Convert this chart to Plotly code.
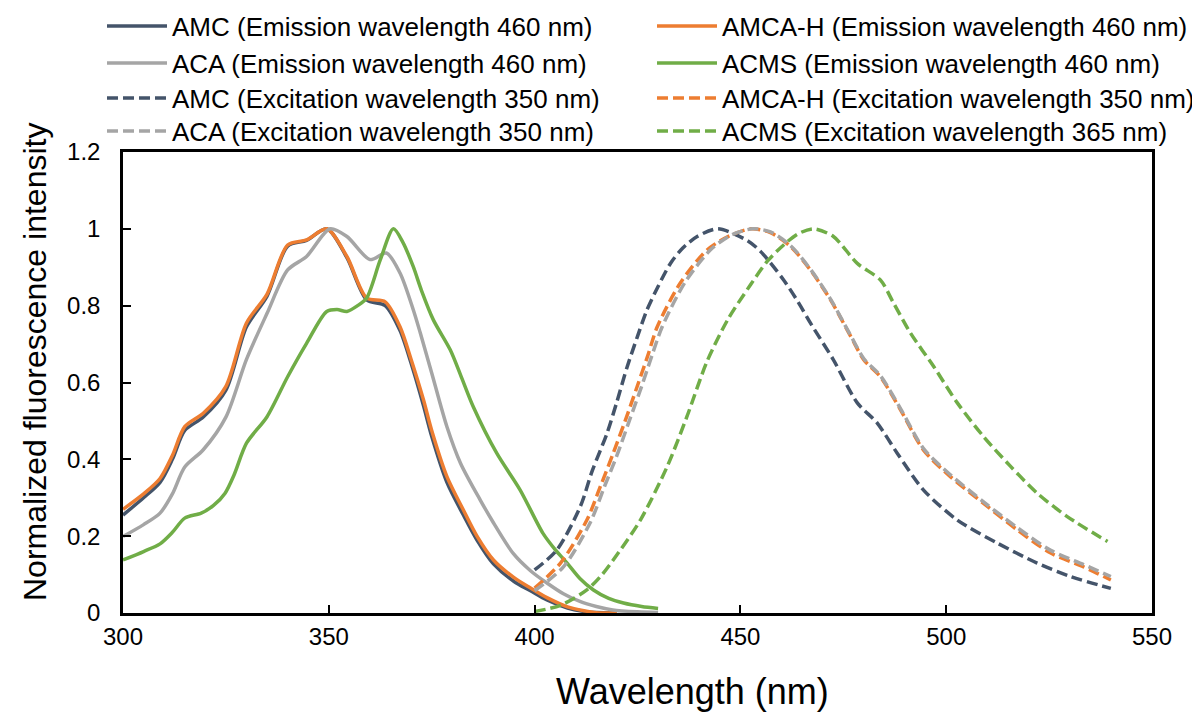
import plotly.graph_objects as go

# ---------------- data ----------------
amc_em_wl = [300, 305, 309, 312, 315, 319.5, 325, 330, 335, 340, 344.6, 349.5, 354.4, 359.2, 363.7, 367.3, 370, 373, 375, 378.7, 382.7, 386, 390, 395, 399, 403, 408, 412, 415, 420]
amc_em = [0.255, 0.30, 0.34, 0.40, 0.475, 0.51, 0.58, 0.745, 0.825, 0.955, 0.97, 1.0, 0.925, 0.815, 0.80, 0.735, 0.65, 0.54, 0.46, 0.34, 0.255, 0.19, 0.128, 0.082, 0.058, 0.034, 0.013, 0.004, 0.001, 0.0]

amcah_em_wl = [300, 305, 309, 312, 315, 319.5, 325, 330, 335, 340, 344.6, 349.5, 354.4, 359.2, 363.7, 367.3, 370, 373, 375, 378.7, 382.7, 386, 390, 395, 399, 403, 408, 412, 415, 420]
amcah_em = [0.27, 0.31, 0.35, 0.41, 0.485, 0.52, 0.59, 0.755, 0.83, 0.958, 0.971, 1.0, 0.928, 0.82, 0.81, 0.745, 0.66, 0.555, 0.475, 0.355, 0.268, 0.2, 0.138, 0.092, 0.065, 0.04, 0.016, 0.006, 0.001, 0.0]

aca_em_wl = [300, 305, 309, 312, 315, 319.5, 325, 330, 335, 340, 344.6, 350.3, 354.4, 360, 364, 367.3, 370.5, 372.2, 375, 378.7, 382, 386.8, 390, 394.8, 399, 403, 407, 411, 415, 419, 425, 430]
aca_em = [0.199, 0.23, 0.26, 0.31, 0.38, 0.425, 0.51, 0.66, 0.78, 0.893, 0.928, 1.0, 0.98, 0.92, 0.937, 0.885, 0.79, 0.73, 0.625, 0.485, 0.39, 0.294, 0.235, 0.155, 0.11, 0.078, 0.05, 0.03, 0.017, 0.008, 0.003, 0.001]

acms_em_wl = [300, 305, 309, 312, 315, 319, 322, 324.8, 327, 330, 335, 340, 344.6, 349.5, 352, 354.4, 357, 359.2, 362.5, 365.7, 368, 370.5, 372.5, 375.4, 379.5, 382, 385.1, 390.8, 396.5, 402, 405, 407.9, 411, 414.3, 418, 421.6, 426, 430]
acms_em = [0.138, 0.16, 0.18, 0.21, 0.247, 0.26, 0.28, 0.312, 0.36, 0.442, 0.511, 0.615, 0.702, 0.785, 0.79, 0.785, 0.80, 0.82, 0.919, 1.0, 0.965, 0.902, 0.84, 0.763, 0.685, 0.62, 0.537, 0.416, 0.32, 0.208, 0.165, 0.13, 0.09, 0.06, 0.038, 0.026, 0.017, 0.012]

amc_ex_wl = [400, 405.4, 411.1, 414, 417.6, 420, 422.5, 425, 427.3, 430, 433, 436, 439.5, 444.5, 451.6, 455, 460.5, 464, 467, 472.6, 478.4, 483.2, 488.1, 494.5, 502.7, 512.4, 522.1, 530.2, 540]
amc_ex = [0.112, 0.164, 0.277, 0.37, 0.468, 0.55, 0.641, 0.72, 0.789, 0.85, 0.91, 0.95, 0.98, 1.0, 0.97, 0.94, 0.867, 0.81, 0.755, 0.659, 0.547, 0.495, 0.416, 0.32, 0.242, 0.182, 0.13, 0.095, 0.064]

amcah_ex_wl = [400, 406.3, 412.7, 416, 419.1, 422, 424.9, 427.5, 429.8, 435.4, 441.9, 447, 452.5, 457.3, 462.2, 467, 471.9, 476.8, 480, 484, 488.9, 494.5, 501, 509, 517.3, 525.4, 533.4, 540]
amcah_ex = [0.065, 0.13, 0.242, 0.33, 0.416, 0.5, 0.589, 0.67, 0.745, 0.859, 0.945, 0.98, 1.0, 0.99, 0.954, 0.893, 0.815, 0.72, 0.659, 0.615, 0.529, 0.424, 0.355, 0.286, 0.216, 0.156, 0.12, 0.086]

aca_ex_wl = [400, 407, 413.5, 417, 420, 423, 426, 428.5, 431, 436.5, 443, 448, 453, 457.3, 462.2, 467, 471.9, 476.8, 480, 484, 488.9, 494.5, 501, 509, 517.3, 525.4, 533.4, 540]
aca_ex = [0.058, 0.12, 0.235, 0.33, 0.41, 0.5, 0.59, 0.67, 0.745, 0.86, 0.948, 0.985, 1.0, 0.992, 0.956, 0.895, 0.817, 0.722, 0.662, 0.618, 0.532, 0.428, 0.36, 0.29, 0.222, 0.163, 0.126, 0.095]

acms_ex_wl = [400, 406.3, 412.7, 416, 419.1, 425.7, 432.2, 437, 441.9, 447, 452.5, 456.5, 460.5, 464, 467.8, 472.6, 478.4, 484, 487.2, 491.3, 497, 502.7, 509.1, 515.7, 522.1, 529.4, 539.2]
acms_ex = [0.004, 0.02, 0.06, 0.095, 0.138, 0.242, 0.381, 0.511, 0.655, 0.765, 0.855, 0.915, 0.958, 0.987, 1.0, 0.98, 0.91, 0.867, 0.807, 0.729, 0.641, 0.547, 0.459, 0.381, 0.312, 0.251, 0.186]

names = [
    "AMC (Emission wavelength 460 nm)", "AMCA-H (Emission wavelength 460 nm)",
    "ACA (Emission wavelength 460 nm)", "ACMS (Emission wavelength 460 nm)",
    "AMC (Excitation wavelength 350 nm)", "AMCA-H (Excitation wavelength 350 nm)",
    "ACA (Excitation wavelength 350 nm)", "ACMS (Excitation wavelength 365 nm)",
]

x_ticks = [300, 350, 400, 450, 500, 550]
y_ticks = [0, 0.2, 0.4, 0.6, 0.8, 1, 1.2]
x_title = "Wavelength (nm)"
y_title = "Normalized fluorescence intensity"

# ---------------- styles ----------------
NAVY, ORANGE, GRAY, GREEN = "#44546A", "#ED7D31", "#A5A5A5", "#70AD47"
DASH = "11px,5px"
series = [
    (amc_em_wl, amc_em, NAVY, "solid"),
    (amcah_em_wl, amcah_em, ORANGE, "solid"),
    (aca_em_wl, aca_em, GRAY, "solid"),
    (acms_em_wl, acms_em, GREEN, "solid"),
    (amc_ex_wl, amc_ex, NAVY, DASH),
    (amcah_ex_wl, amcah_ex, ORANGE, DASH),
    (aca_ex_wl, aca_ex, GRAY, DASH),
    (acms_ex_wl, acms_ex, GREEN, DASH),
]

FONT = "Liberation Sans, Arial, sans-serif"
W, H = 1200, 718
ML, MR, MT, MB = 115, 56, 144, 113
PW, PH = W - ML - MR, H - MT - MB
row_y = [18, 55, 90, 123]      # legend row centres (px from top of figure)
col_x = [94, 644]              # legend column left edges (px)

fig = go.Figure()
legends = {}
for i, ((wl, val, col, dash), nm) in enumerate(zip(series, names)):
    key = "legend" if i == 0 else f"legend{i + 1}"
    fig.add_trace(go.Scatter(
        x=wl, y=val, mode="lines", name=nm, legend=key,
        line=dict(color=col, width=3.5, dash=dash, shape="spline", smoothing=0.8),
    ))
    legends[key] = dict(orientation="h", xref="container", yref="container",
                        xanchor="left", yanchor="middle",
                        x=col_x[i % 2] / W, y=1 - row_y[i // 2] / H,
                        itemwidth=60,
                        font=dict(family=FONT, size=26, color="#000000"),
                        bgcolor="rgba(0,0,0,0)")

axis_common = dict(showgrid=False, zeroline=False, showline=True, linecolor="#000000",
                   linewidth=2.5, mirror=True, ticks="inside", ticklen=8, tickwidth=2,
                   tickcolor="#000000", tickfont=dict(family=FONT, size=24, color="#000000"))

fig.update_layout(
    width=W, height=H,
    margin=dict(l=ML, r=MR, t=MT, b=MB, autoexpand=False),
    paper_bgcolor="#ffffff", plot_bgcolor="#ffffff",
    showlegend=True,
    xaxis=dict(axis_common, range=[300, 550], tickvals=x_ticks),
    yaxis=dict(axis_common, range=[0, 1.2], tickvals=y_ticks, ticklabelstandoff=15),
    annotations=[
        dict(text=x_title, xref="paper", yref="paper", x=(684 - ML) / PW, y=-(683 - (H - MB)) / PH,
             xanchor="center", yanchor="middle", showarrow=False,
             font=dict(family=FONT, size=36, color="#000000")),
        dict(text=y_title, xref="paper", yref="paper", x=-(ML - 27) / PW, y=((H - MB) - 354) / PH,
             xanchor="center", yanchor="middle", showarrow=False, textangle=-90,
             font=dict(family=FONT, size=32, color="#000000")),
    ],
    **legends,
)

fig.write_html("out.html")
